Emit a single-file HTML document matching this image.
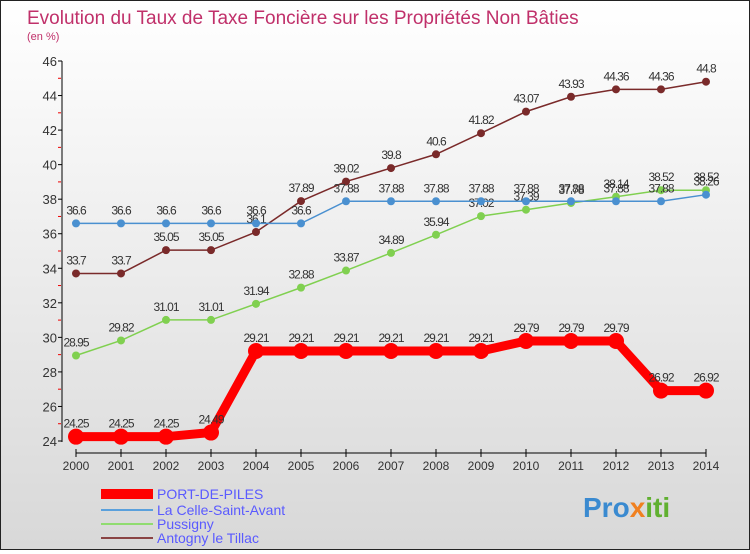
<!DOCTYPE html>
<html><head><meta charset="utf-8"><style>
body{margin:0;width:750px;height:550px;overflow:hidden;font-family:"Liberation Sans",sans-serif}
#c{position:absolute;left:0;top:0;width:748px;height:548px;border:1px solid #222;background:linear-gradient(#ffffff,#d8d8d8)}
</style></head><body>
<div id="c">
<svg id="s" width="748" height="548" xmlns="http://www.w3.org/2000/svg">
<text x="26" y="23" font-size="19" fill="#c0306a">Evolution du Taux de Taxe Foncière sur les Propriétés Non Bâties</text>
<text x="26" y="39" font-size="11" fill="#c0306a">(en %)</text>
<g id="axes"></g><g id="series"></g>
<g>
<rect x="100" y="488" width="52" height="10" fill="#ff0000"/><text x="156" y="498" font-size="14" fill="#5a5aff">PORT-DE-PILES</text>
<line x1="100" y1="509" x2="152" y2="509" stroke="#5aa0dc" stroke-width="2"/><text x="156" y="514" font-size="14" fill="#5a5aff">La Celle-Saint-Avant</text>
<line x1="100" y1="523" x2="152" y2="523" stroke="#90dc70" stroke-width="2"/><text x="156" y="528" font-size="14" fill="#5a5aff">Pussigny</text>
<line x1="100" y1="537" x2="152" y2="537" stroke="#8a4444" stroke-width="2"/><text x="156" y="542" font-size="14" fill="#5a5aff">Antogny le Tillac</text>
</g>
<text x="582" y="516" font-size="28" font-weight="bold" fill="#3a8ad0">Pro<tspan fill="#f08020">x</tspan><tspan fill="#60b030">iti</tspan></text>
</svg></div>
<script>
const years=[2000,2001,2002,2003,2004,2005,2006,2007,2008,2009,2010,2011,2012,2013,2014];
const yTicks=[24,26,28,30,32,34,36,38,40,42,44,46];
const port=[24.25,24.25,24.25,24.49,29.21,29.21,29.21,29.21,29.21,29.21,29.79,29.79,29.79,26.92,26.92];
const celle=[36.6,36.6,36.6,36.6,36.6,36.6,37.88,37.88,37.88,37.88,37.88,37.88,37.88,37.88,38.26];
const pussigny=[28.95,29.82,31.01,31.01,31.94,32.88,33.87,34.89,35.94,37.02,37.39,37.78,38.14,38.52,38.52];
const antogny=[33.7,33.7,35.05,35.05,36.1,37.89,39.02,39.8,40.6,41.82,43.07,43.93,44.36,44.36,44.8];
const NS="http://www.w3.org/2000/svg";
const X=i=>75+i*45, Y=v=>440-(v-24)*(380/22);
function mk(t,a,p){const e=document.createElementNS(NS,t);for(const k in a)e.setAttribute(k,a[k]);p.appendChild(e);return e;}
const ax=document.getElementById('axes'),se=document.getElementById('series');
const yl=mk('line',{x1:61,y1:60,x2:61,y2:441,stroke:'#000'},ax);

yTicks.forEach(v=>{mk('line',{x1:57,x2:61,y1:Y(v),y2:Y(v),stroke:'#000'},ax);
 if(v<46)mk('line',{x1:57,x2:60,y1:Y(v+1),y2:Y(v+1),stroke:'#e00'},ax);
 const t=mk('text',{x:56,y:Y(v)+5,'text-anchor':'end','font-size':13,fill:'#333'},ax);t.textContent=v;
 });
mk('line',{x1:75,x2:705,y1:452,y2:452,stroke:'#000'},ax);
years.forEach((y,i)=>{mk('line',{x1:X(i),x2:X(i),y1:448,y2:456,stroke:'#000'},ax);
 const t=mk('text',{x:X(i),y:469,'text-anchor':'middle','font-size':12,fill:'#333'},ax);t.textContent=y;
 });
function draw(d,col,w,r,name,lab){const g=mk('g',{},se);
 
 mk('polyline',{points:d.map((v,i)=>X(i)+','+Y(v)).join(' '),fill:'none',stroke:col,'stroke-width':w},g);
 d.forEach((v,i)=>{const c=mk('circle',{cx:X(i),cy:Y(v),r:r,fill:col},g);
  
  const t=mk('text',{x:X(i),y:Y(v)-9,'text-anchor':'middle','font-size':12,fill:'#333','letter-spacing':'-1'},g);t.textContent=String(v);});}
draw(antogny,'#7a2a2a',1.5,4,'series-antogny','');
draw(pussigny,'#80d050',1.5,4,'series-pussigny','');
draw(celle,'#4a90d0',1.5,4,'series-celle','');
draw(port,'#ff0000',9,8,'series-port-de-piles','');
</script></body></html>
